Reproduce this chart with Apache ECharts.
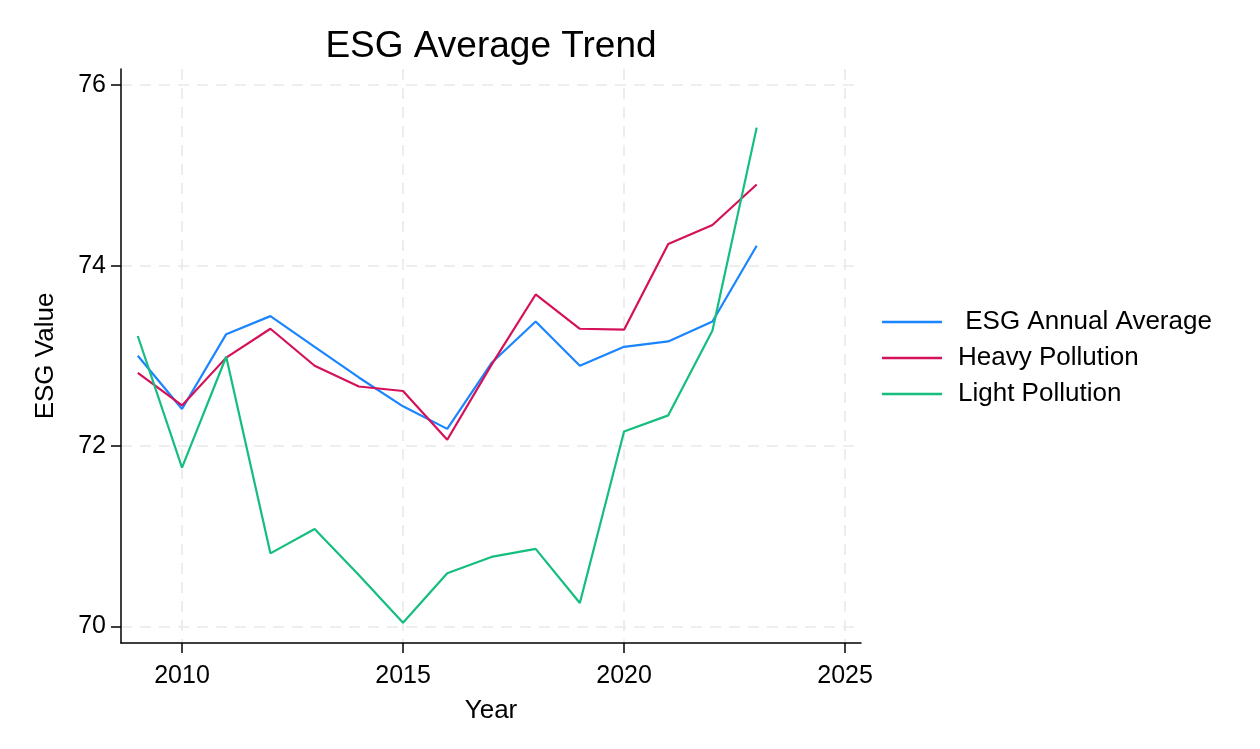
<!DOCTYPE html>
<html>
<head>
<meta charset="utf-8">
<script src="https://cdn.jsdelivr.net/npm/echarts@6/dist/echarts.min.js"></script>
<style>
  html, body { margin: 0; padding: 0; background: #ffffff; }
  #chart { width: 1260px; height: 749px; }
</style>
</head>
<body>
<div id="chart"></div>
<script>
// ---- data ----
const years = [2009, 2010, 2011, 2012, 2013, 2014, 2015, 2016, 2017, 2018, 2019, 2020, 2021, 2022, 2023];
const esgAverage = [73.00, 72.41, 73.24, 73.44, 73.10, 72.76, 72.44, 72.19, 72.92, 73.38, 72.89, 73.10, 73.16, 73.38, 74.22];
const heavyPollution = [72.81, 72.45, 72.98, 73.30, 72.89, 72.66, 72.61, 72.07, 72.90, 73.68, 73.30, 73.29, 74.24, 74.45, 74.90];
const lightPollution = [73.22, 71.76, 72.99, 70.81, 71.08, 70.57, 70.04, 70.59, 70.77, 70.86, 70.26, 72.16, 72.34, 73.28, 75.53];
const seriesNames = [' ESG Annual Average', 'Heavy Pollution', 'Light Pollution'];
const xTicks = [2010, 2015, 2020, 2025];
const yTicks = [70, 72, 74, 76];

const FONT = '"Liberation Sans", Arial, sans-serif';
const colors = ['#1A85FF', '#D41159', '#14BE7E'];

const pairs = arr => years.map((y, i) => [y, arr[i]]);

const chart = echarts.init(document.getElementById('chart'), null, { renderer: 'canvas' });

const gridLine = { show: true, lineStyle: { color: '#e9e9e9', width: 1.6, type: [11, 8] } };

chart.setOption({
  animation: false,
  backgroundColor: '#ffffff',
  color: colors,
  title: {
    text: 'ESG Average Trend',
    left: 491,
    textAlign: 'center',
    top: 28,
    padding: 0,
    textStyle: { fontFamily: FONT, fontSize: 37, fontWeight: 'normal', color: '#000' }
  },
  legend: {
    orient: 'vertical',
    left: 882,
    top: 309,
    icon: 'rect',
    itemWidth: 60,
    itemHeight: 2.5,
    itemGap: 10,
    padding: 0,
    textStyle: { fontFamily: FONT, fontSize: 26, color: '#000', lineHeight: 26, padding: [0, 0, 0, 11] },
    data: seriesNames
  },
  grid: {
    left: 121, right: 399, top: 69, bottom: 106,
    containLabel: false,
    outerBoundsMode: 'none'
  },
  xAxis: {
    type: 'value',
    min: 2008.62,
    max: 2025.36,
    name: 'Year',
    nameLocation: 'middle',
    nameGap: 55,
    nameTextStyle: { fontFamily: FONT, fontSize: 26, color: '#000' },
    axisLine: { show: true, onZero: false, lineStyle: { color: '#000', width: 1.5 } },
    axisTick: { show: true, length: 10, customValues: xTicks, lineStyle: { color: '#000', width: 1.5 } },
    axisLabel: { customValues: xTicks, margin: 21, fontFamily: FONT, fontSize: 25, color: '#000', formatter: v => String(v) },
    splitLine: gridLine
  },
  yAxis: {
    type: 'value',
    min: 69.816,
    max: 76.18,
    name: 'ESG Value',
    nameLocation: 'middle',
    nameRotate: 90,
    nameGap: 62,
    nameTextStyle: { fontFamily: FONT, fontSize: 26, color: '#000' },
    axisLine: { show: true, onZero: false, lineStyle: { color: '#000', width: 1.5 } },
    axisTick: { show: true, length: 10, customValues: yTicks, lineStyle: { color: '#000', width: 1.5 } },
    axisLabel: { customValues: yTicks, margin: 15, fontFamily: FONT, fontSize: 25, color: '#000', formatter: v => String(v) },
    splitLine: gridLine
  },
  series: [
    { name: seriesNames[0], type: 'line', data: pairs(esgAverage), symbol: 'none', lineStyle: { width: 2.2 } },
    { name: seriesNames[1], type: 'line', data: pairs(heavyPollution), symbol: 'none', lineStyle: { width: 2.2 } },
    { name: seriesNames[2], type: 'line', data: pairs(lightPollution), symbol: 'none', lineStyle: { width: 2.2 } }
  ]
});
</script>
</body>
</html>
